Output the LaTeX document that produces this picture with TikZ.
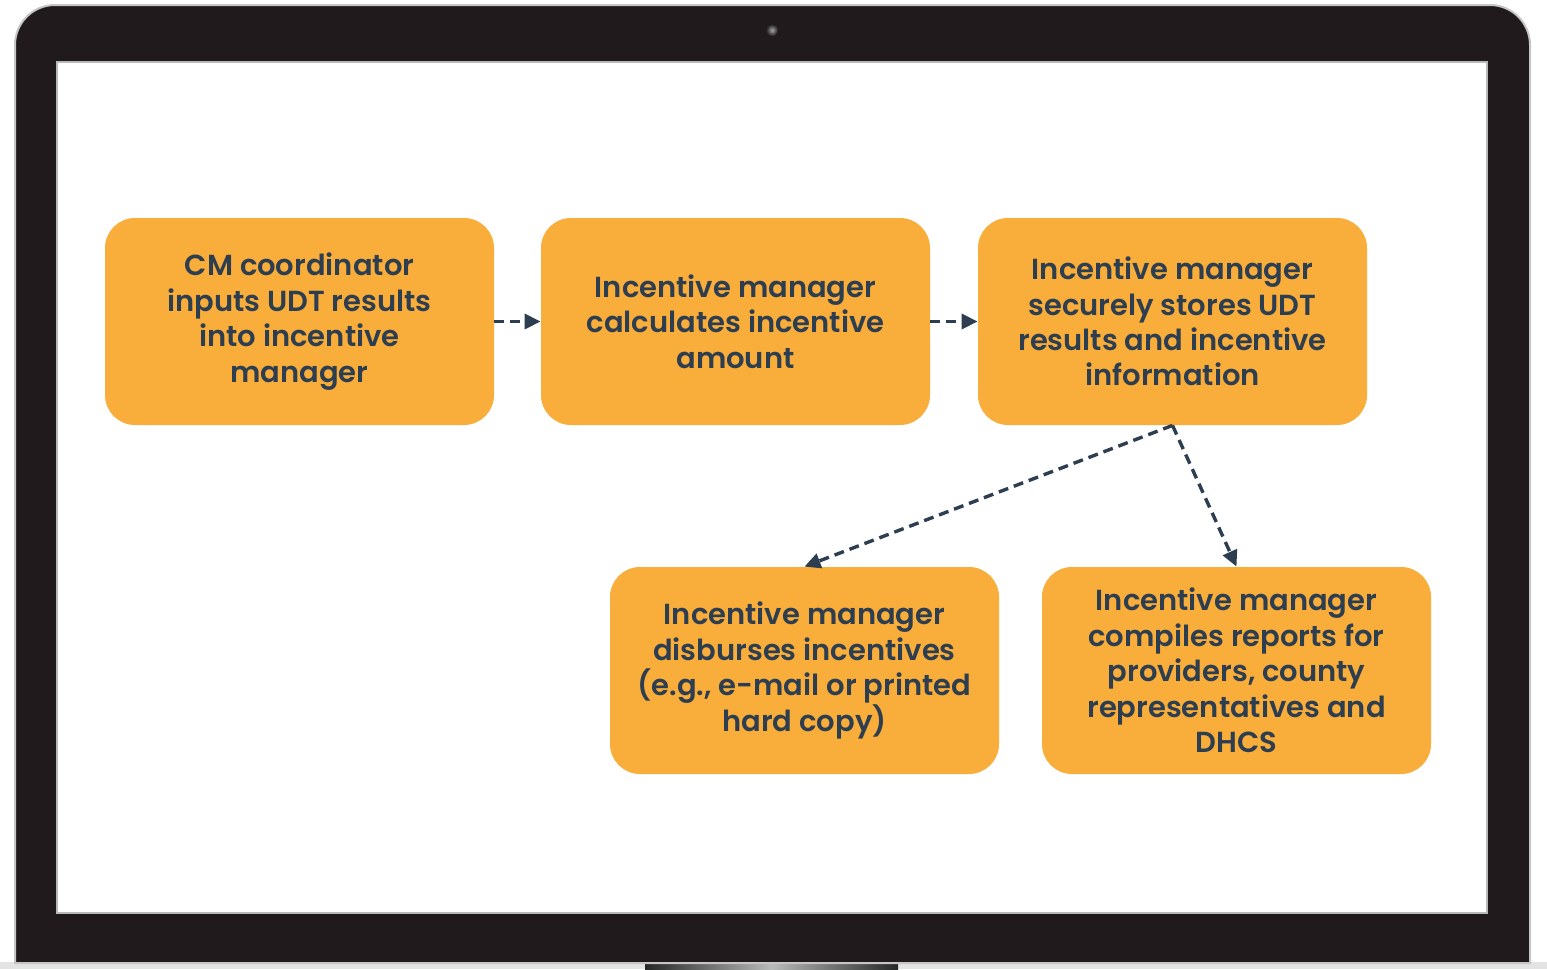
\documentclass[tikz,border=0pt]{standalone}
\usepackage{fontspec}
\setmainfont{Poppins}[BoldFont={Poppins SemiBold}]
\usetikzlibrary{arrows.meta}
\definecolor{boxfill}{HTML}{F9AD3A}
\definecolor{inkblue}{HTML}{2D3E50}
\definecolor{bezel}{HTML}{201A1C}
\begin{document}
\begin{tikzpicture}
          [x=0.5pt,y=-0.5pt,
           every node/.style={fill=boxfill, rounded corners=15pt, inner sep=0pt,
             minimum width=194.5pt, minimum height=103.5pt, align=center,
             text=inkblue, font=\fontsize{14.5}{17.7}\selectfont\bfseries},
           flow/.style={draw=inkblue, line width=1.7pt, dash pattern=on 5pt off 3pt,
             -{Triangle[length=8pt,width=7.5pt]}}]
        \useasboundingbox (0,0) rectangle (1547,969);

        % laptop base and hinge
        \fill[gray!22] (0,962) rectangle (1547,969);
        \shade[left color=black!85, right color=black!85, middle color=gray!55] (645,962) rectangle (898,969);

        % bezel, screen, camera
        \filldraw[fill=bezel, draw=gray!45, line width=1pt] (15,963) -- (15,45)
          arc[start angle=180, end angle=270, radius=40] -- (1490,5)
          arc[start angle=270, end angle=360, radius=40] -- (1530,963) -- cycle;
        \filldraw[fill=white, draw=gray!55, line width=0.8pt] (57,62) rectangle (1487,913);
        \shade[inner color=gray!70, outer color=bezel] (772,30) circle[radius=6];

        \node (b1) at (299.5,321.5) {CM coordinator\\inputs UDT results\\into incentive\\manager};
        \node (b2) at (735.5,321.5) {Incentive manager\\calculates incentive\\amount};
        \node (b3) at (1172.5,321.5) {Incentive manager\\securely stores UDT\\results and incentive\\information};

        \node (b4) at (804.5,670.5) {Incentive manager\\disburses incentives\\(e.g., e-mail or printed\\hard copy)};
        \node (b5) at (1236.5,670.5) {Incentive manager\\compiles reports for\\providers, county\\representatives and\\DHCS};

        \foreach \from/\to in {b1.east/b2.west, b2.east/b3.west, b3.south/b4.north, b3.south/b5.north}
          \draw[flow] (\from) -- (\to);
      \end{tikzpicture}
\end{document}
